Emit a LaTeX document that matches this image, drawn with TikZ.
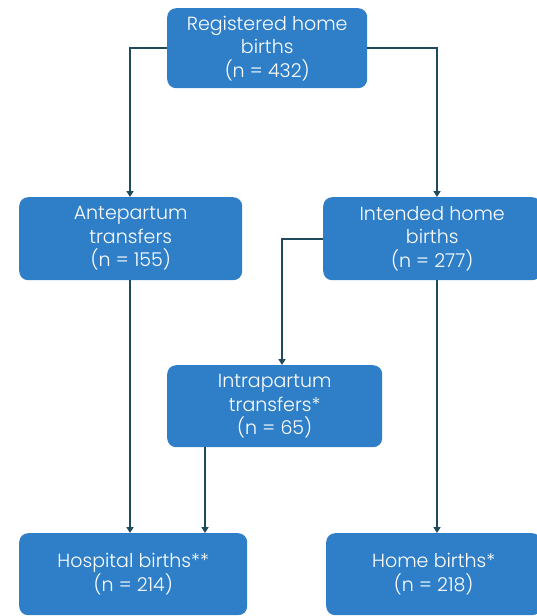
\documentclass[tikz,border=0pt]{standalone}
\usepackage{fontspec}
\setmainfont{Poppins Light}
\usetikzlibrary{arrows.meta}
\definecolor{boxblue}{HTML}{2F7FC8}
\definecolor{linecol}{HTML}{1E4A5C}
\tikzset{
  fbox/.style={draw=none, fill=boxblue, rounded corners=9pt, text=white, align=center,
    font=\fontsize{19}{23.5}\selectfont, anchor=north west, inner sep=0pt},
  conn/.style={draw=linecol, line width=1.8pt, -{Triangle[length=6pt,width=7pt]}}
}
\begin{document}
\begin{tikzpicture}[x=1pt,y=-1pt]
\useasboundingbox (0,0) rectangle (536,616);
\node[fbox, minimum width=200pt, minimum height=80pt] (top) at (167,8) {Registered home\\births\\(n = 432)};
\node[fbox, minimum width=223pt, minimum height=83pt] (ante) at (19,197) {Antepartum\\transfers\\(n = 155)};
\node[fbox, minimum width=218pt, minimum height=83pt] (intd) at (323,197) {Intended home\\births\\(n = 277)};
\node[fbox, minimum width=215pt, minimum height=82pt] (intra) at (167,365) {Intrapartum\\transfers*\\(n = 65)};
\node[fbox, minimum width=228pt, minimum height=82pt] (hosp) at (19,533) {Hospital births**\\(n = 214)};
\node[fbox, minimum width=215pt, minimum height=82pt] (home) at (326,533) {Home births*\\(n = 218)};
\draw[conn] (top.west) -| (ante.north -| 130,0);
\draw[conn] (top.east) -| (intd.north -| 437,0);
\draw[conn] (intd.west) -| (intra.north -| 282,0);
\draw[conn] (ante.south -| 130,0) -- (hosp.north -| 130,0);
\draw[conn] (intra.south -| 205,0) -- (hosp.north -| 205,0);
\draw[conn] (intd.south -| 437,0) -- (home.north -| 437,0);
\end{tikzpicture}
\end{document}
